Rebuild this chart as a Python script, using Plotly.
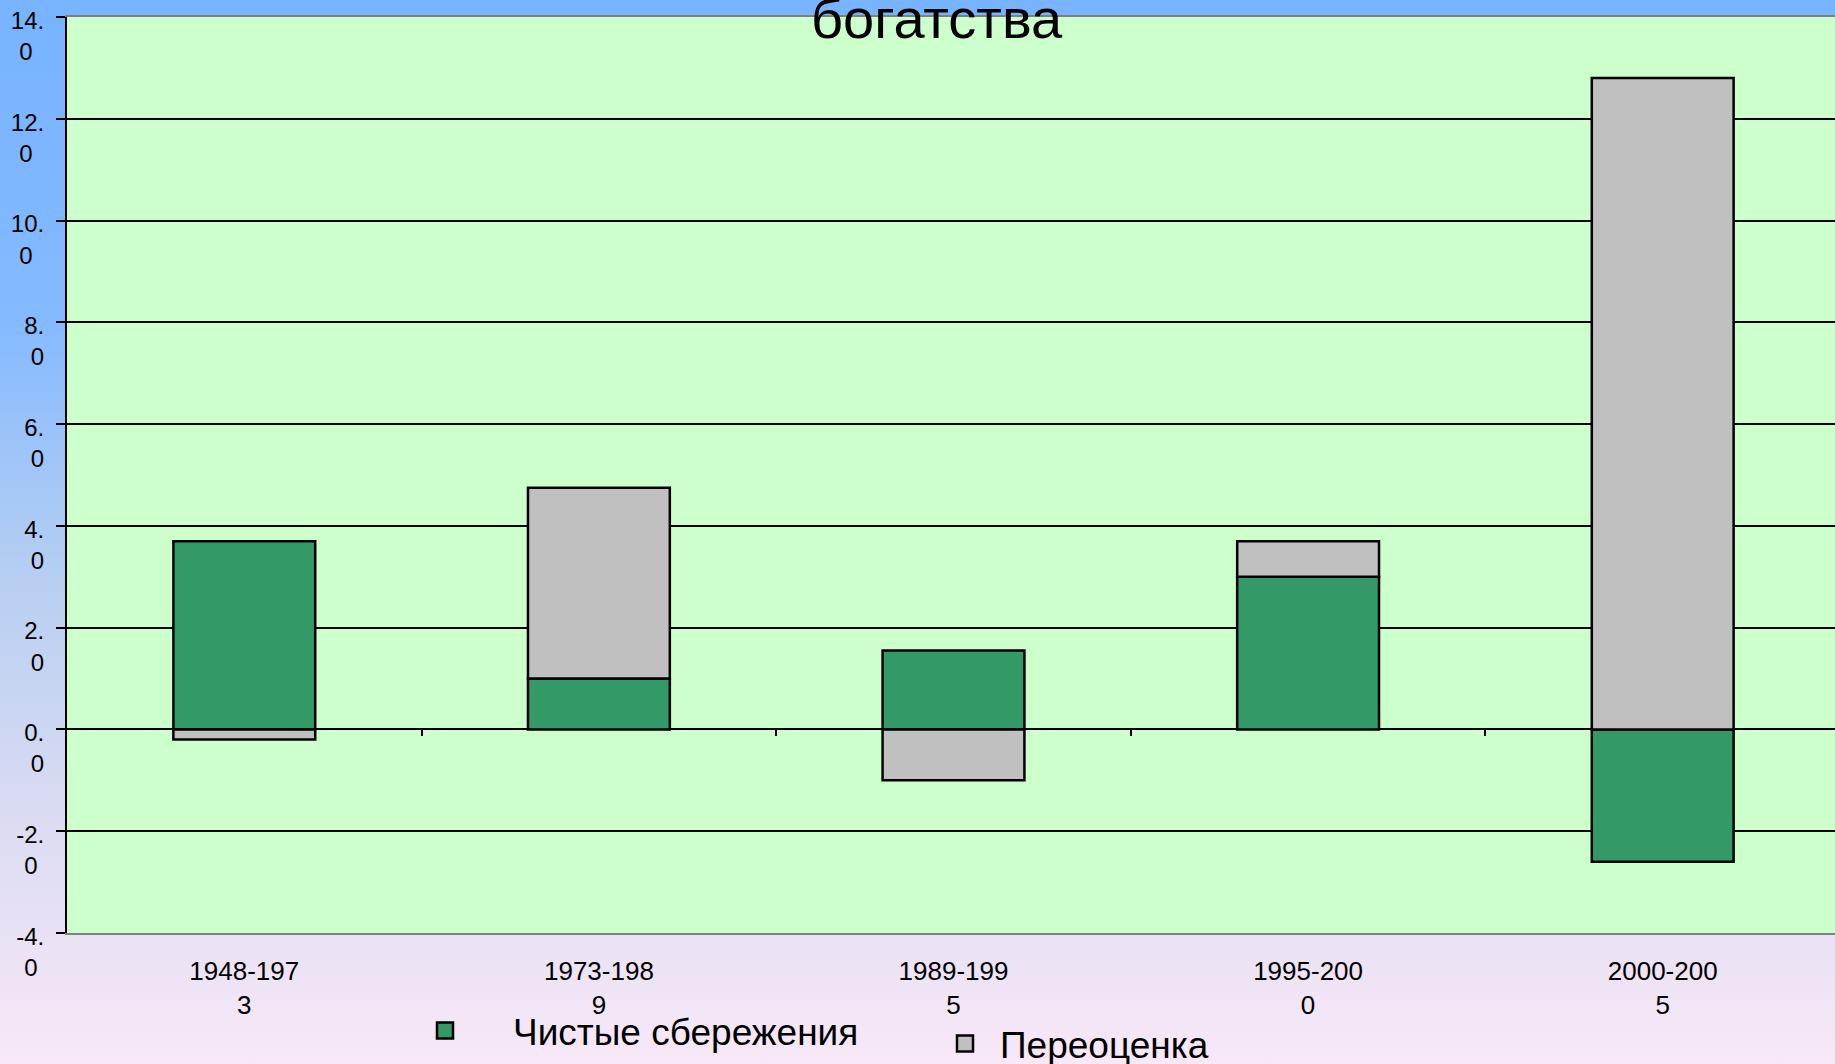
import base64
import plotly.graph_objects as go

# ---- data ----
periods = ["1948-197<br>3", "1973-198<br>9", "1989-199<br>5", "1995-200<br>0", "2000-200<br>5"]
net_savings = [3.7, 1.0, 1.55, 3.0, -2.6]
revaluation = [-0.2, 3.75, -1.0, 0.7, 12.8]
series_names = ["Чистые сбережения", "Переоценка"]
y_ticks = [-4, -2, 0, 2, 4, 6, 8, 10, 12, 14]
title_text = "богатства"

GREEN = "#339966"
GRAY = "#c0c0c0"
FONT = "Liberation Sans, Arial, sans-serif"

W, H = 1835, 1064
ML, MR, MT, MB = 67, 0, 17, 131
PW, PH = W - ML - MR, H - MT - MB
cat_px = 354.6

def tick_label(v):
    top = f"{v:.0f}."
    pad = {"14.": "\u00a0\u2009", "12.": "\u00a0\u2009", "10.": "\u00a0\u2009",
           "-2.": "\u00a0", "-4.": "\u00a0"}.get(top, "")
    return f"{top}<br>0{pad}"

x_idx = list(range(len(periods)))

fig = go.Figure()
fig.add_trace(go.Bar(x=x_idx, y=net_savings, name=series_names[0], marker_color=GREEN,
                     marker_line_color="black", marker_line_width=2.5, width=0.4,
                     showlegend=False))
fig.add_trace(go.Bar(x=x_idx, y=revaluation, name=series_names[1], marker_color=GRAY,
                     marker_line_color="black", marker_line_width=2.5, width=0.4,
                     showlegend=False))
# legend entries
fig.add_trace(go.Scatter(x=[None], y=[None], mode="markers", name=series_names[0],
                         marker=dict(symbol="square", size=16, color=GREEN,
                                     line=dict(color="black", width=2.5)),
                         legend="legend"))
fig.add_trace(go.Scatter(x=[None], y=[None], mode="markers", name=series_names[1],
                         marker=dict(symbol="square", size=16, color=GRAY,
                                     line=dict(color="black", width=2.5)),
                         legend="legend2"))
# helper trace for category tick marks on the zero line
fig.add_trace(go.Scatter(x=[None], y=[None], xaxis="x2", showlegend=False, hoverinfo="skip"))

# gradient background as an SVG image
svg = (f'<svg xmlns="http://www.w3.org/2000/svg" width="{W}" height="{H}" preserveAspectRatio="none">'
       '<defs><linearGradient id="g" x1="0" y1="0" x2="0" y2="1">'
       '<stop offset="0" stop-color="#77b3ff"/>'
       '<stop offset="0.3" stop-color="#84baff"/>'
       '<stop offset="0.55" stop-color="#b8cff2"/>'
       '<stop offset="0.78" stop-color="#dcdcf2"/>'
       '<stop offset="1" stop-color="#f8e8f8"/>'
       '</linearGradient></defs>'
       f'<rect x="0" y="0" width="{W}" height="{H}" fill="url(#g)"/></svg>')
src = "data:image/svg+xml;base64," + base64.b64encode(svg.encode()).decode()

x_hi = -0.5 + PW / cat_px
y_rng = [-4, 14]

fig.update_layout(
    width=W, height=H,
    margin=dict(l=ML, r=MR, t=MT, b=MB, pad=0, autoexpand=False),
    paper_bgcolor="#f8e8f8",
    plot_bgcolor="#ccffcc",
    barmode="relative",
    font=dict(family=FONT, color="black"),
    images=[dict(source=src, xref="paper", yref="paper",
                 x=-ML / PW, y=1 + MT / PH, sizex=W / PW, sizey=H / PH,
                 xanchor="left", yanchor="top", sizing="stretch", layer="below")],
    shapes=[dict(type="rect", xref="paper", yref="paper", x0=0, x1=1, y0=0, y1=1,
                 fillcolor="#ccffcc", line_width=0, layer="below")],
    xaxis=dict(range=[-0.5, x_hi], tickvals=x_idx, ticktext=periods, automargin=False,
               tickfont=dict(size=26, family=FONT), showgrid=False, zeroline=False,
               showline=True, linecolor="#808080", linewidth=2, mirror=True, ticks="",
               ticklabelstandoff=14),
    xaxis2=dict(overlaying="x", anchor="free", automargin=False,
                position=(0 - y_rng[0]) / (y_rng[1] - y_rng[0]),
                range=[-0.5, x_hi], tickvals=[0.5, 1.5, 2.5, 3.5], ticks="outside",
                ticklen=6, tickwidth=2, tickcolor="black", showticklabels=False,
                showline=False, showgrid=False, zeroline=False),
    yaxis=dict(range=y_rng, tickvals=y_ticks, ticktext=[tick_label(v) for v in y_ticks],
               automargin=False,
               tickfont=dict(size=24, family=FONT), showgrid=True, gridcolor="black",
               gridwidth=1.5, zeroline=True, zerolinecolor="black", zerolinewidth=1.5,
               showline=True, linecolor="black", linewidth=2, ticks="outside",
               ticklen=9, tickwidth=2, tickcolor="black",
               ticklabelshift=19, ticklabelstandoff=7, ticklabeloverflow="allow"),
    legend=dict(xref="paper", yref="container",
                x=(377 - ML) / PW, y=1 - 1000 / H, xanchor="left", yanchor="top",
                bgcolor="rgba(0,0,0,0)", font=dict(size=37, family=FONT),
                itemwidth=126),
    legend2=dict(xref="paper", yref="container",
                 x=(930 - ML) / PW, y=1 - 1013 / H, xanchor="left", yanchor="top",
                 bgcolor="rgba(0,0,0,0)", font=dict(size=37, family=FONT),
                 itemwidth=60),
    annotations=[dict(text=title_text, xref="paper", yref="paper",
                      x=(937 - ML) / PW, y=(H - MB - 52) / PH, xanchor="center",
                      yanchor="bottom", showarrow=False,
                      font=dict(size=56, family=FONT, color="black"))],
)

fig.write_html("out.html", config={"displayModeBar": False},
               post_script="document.body.style.margin='0';")
